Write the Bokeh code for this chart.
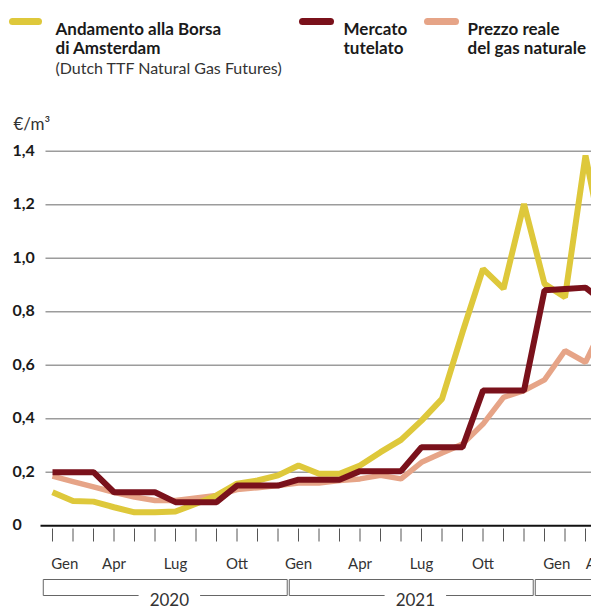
from bokeh.plotting import figure
from bokeh.models import Range1d
from bokeh.core.properties import value
from bokeh.embed import file_html
from bokeh.resources import INLINE

# ---------------- data (monthly, Jan 2020 = 0) ----------------
months = list(range(28))
ttf = [0.125, 0.092, 0.090, 0.069, 0.050, 0.050, 0.053, 0.082, 0.113, 0.157,
       0.169, 0.188, 0.225, 0.194, 0.194, 0.225, 0.275, 0.321, 0.393, 0.474,
       0.723, 0.960, 0.886, 1.203, 0.904, 0.854, 1.384, 1.000]
tutelato = [0.200, 0.200, 0.200, 0.125, 0.125, 0.125, 0.088, 0.088, 0.088, 0.150,
            0.150, 0.150, 0.172, 0.172, 0.172, 0.204, 0.204, 0.204, 0.293, 0.293,
            0.293, 0.505, 0.505, 0.505, 0.880, 0.885, 0.890, 0.830]
reale = [0.185, 0.165, 0.145, 0.125, 0.107, 0.094, 0.094, 0.104, 0.113, 0.135,
         0.142, 0.150, 0.160, 0.160, 0.169, 0.175, 0.188, 0.175, 0.237, 0.272,
         0.305, 0.380, 0.480, 0.505, 0.545, 0.654, 0.611, 0.770]

y_ticks = [0, 0.2, 0.4, 0.6, 0.8, 1.0, 1.2, 1.4]
y_tick_labels = ["0", "0,2", "0,4", "0,6", "0,8", "1,0", "1,2", "1,4"]
month_labels = ["Gen", "Apr", "Lug", "Ott", "Gen", "Apr", "Lug", "Ott", "Gen", "Apr"]
month_label_pos = [0.6, 3, 6, 9, 12, 15, 18, 21, 24.6, 26.6]
years = ["2020", "2021", "2022"]

# ---------------- layout helpers (pixel -> data) ----------------
W, H = 591, 607
PX0, DX = 52.0, 20.5
PY0, DY = 525.2, 267.5


def X(px):
    return (px - PX0) / DX


def Y(py):
    return (PY0 - py) / DY


YELLOW = "#DEC83B"
DARKRED = "#7A111B"
SALMON = "#E6A487"
TXT = "#1a1a1a"
FONT = value("Lato")

p = figure(width=W, height=H, x_range=Range1d(X(0), X(W)), y_range=Range1d(Y(H), Y(0)),
           x_axis_location=None, y_axis_location=None, min_border=0,
           toolbar_location=None, output_backend="svg")
p.grid.visible = False
p.outline_line_color = None
p.background_fill_color = "white"
p.border_fill_color = "white"

# grid lines
gy = y_ticks[1:]
p.segment(x0=[X(45)] * len(gy), x1=[X(W + 5)] * len(gy), y0=gy, y1=gy,
          line_color="#9c9c9c", line_width=1.5)
# zero axis line
p.segment(x0=[X(40)], x1=[X(W + 5)], y0=[0], y1=[0], line_color="#111111", line_width=2)
# month ticks
p.segment(x0=months, x1=months, y0=[Y(528)] * len(months), y1=[Y(541)] * len(months),
          line_color="#555555", line_width=1)

# y labels
p.text(x=[X(12)] * len(y_ticks), y=y_ticks, text=y_tick_labels, text_font=FONT,
       text_font_style="bold", text_font_size="16px", text_align="left",
       text_baseline="middle", text_color=TXT, y_offset=-1)
p.text(x=[X(13)], y=[Y(123)], text=["€/m³"], text_font=FONT, text_font_size="17px",
       text_align="left", text_baseline="alphabetic", text_color="#333333")

# series
p.line(months, reale, line_color=SALMON, line_width=5.5)
p.line(months, ttf, line_color=YELLOW, line_width=6)
p.line(months, tutelato, line_color=DARKRED, line_width=6)

# month labels
p.text(x=month_label_pos, y=[Y(562)] * len(month_labels), text=month_labels,
       text_font=FONT, text_font_size="15px", text_align="center",
       text_baseline="middle", text_color="#333333")

# year brackets
bx0, bx1, by0, by1 = [], [], [], []
ycx = []
top, bot = Y(579), Y(595)
for k, yr in enumerate(years):
    left = 12 * k - 0.45
    right = 12 * k + 11.45
    c = 12 * k + 5.7
    ycx.append(c)
    for (a, b, u, v) in [(left, right, top, top), (left, left, top, bot),
                         (right, right, top, bot), (left, c - 1.5, bot, bot),
                         (c + 1.5, right, bot, bot)]:
        bx0.append(a); bx1.append(b); by0.append(u); by1.append(v)
p.segment(x0=bx0, x1=bx1, y0=by0, y1=by1, line_color="#666666", line_width=1)
p.text(x=ycx, y=[Y(599)] * len(years), text=years, text_font=FONT,
       text_font_size="17px", text_align="center", text_baseline="middle",
       text_color="#333333")

# legend
sw = [(12, 38, YELLOW), (302, 330, DARKRED), (427, 455, SALMON)]
p.segment(x0=[X(a) for a, b, c in sw], x1=[X(b) for a, b, c in sw],
          y0=[Y(21)] * 3, y1=[Y(21)] * 3, line_color=[c for a, b, c in sw],
          line_width=7, line_cap="round")
leg_x = [55, 55, 343, 343, 467, 467]
leg_y = [28, 47, 28, 47, 28, 47]
leg_t = ["Andamento alla Borsa", "di Amsterdam", "Mercato", "tutelato",
         "Prezzo reale", "del gas naturale"]
p.text(x=[X(v) for v in leg_x], y=[Y(v) for v in leg_y], text=leg_t, text_font=FONT,
       text_font_style="bold", text_font_size="17px", text_align="left",
       text_baseline="alphabetic", text_color=TXT)
p.text(x=[X(55)], y=[Y(67)], text=["(Dutch TTF Natural Gas Futures)"], text_font=FONT,
       text_font_size="16px", text_align="left", text_baseline="alphabetic",
       text_color="#333333")

open("out.html", "w").write(file_html(p, INLINE))
